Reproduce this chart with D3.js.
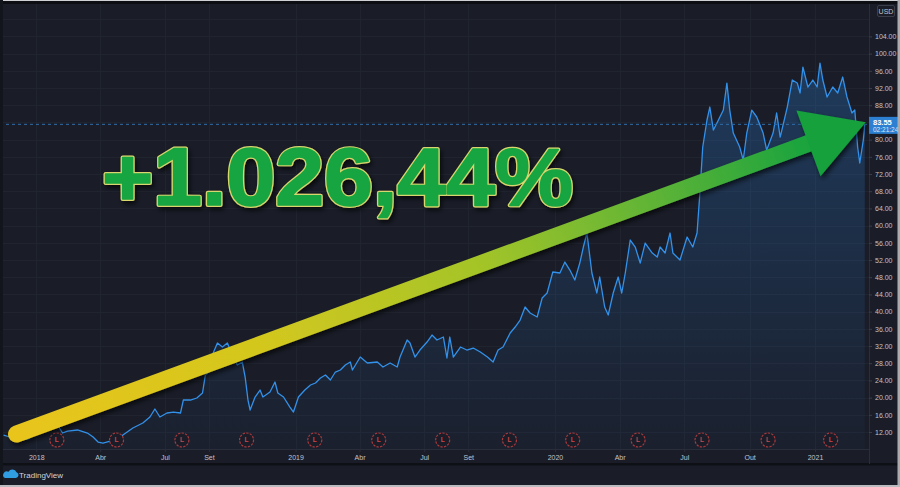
<!DOCTYPE html>
<html>
<head>
<meta charset="utf-8">
<script src="https://cdn.jsdelivr.net/npm/d3@7"></script>
<style>
  html, body { margin: 0; padding: 0; background: #1a1d28; overflow: hidden; }
  svg { display: block; font-family: "Liberation Sans", Arial, sans-serif; }
</style>
</head>
<body>
<div id="viz"></div>
<script>
// price history (daily closes, sampled)
const dates = [
  '2017-11-16','2017-11-25','2017-12-02','2017-12-09','2017-12-21','2017-12-28',
  '2018-01-11','2018-01-25','2018-02-01','2018-02-07','2018-02-14','2018-02-28',
  '2018-03-14','2018-03-22','2018-03-29','2018-04-05','2018-04-15','2018-04-25',
  '2018-05-03','2018-05-17','2018-05-31','2018-06-10','2018-06-17','2018-06-24',
  '2018-07-04','2018-07-13','2018-07-23','2018-07-27','2018-08-06','2018-08-15',
  '2018-08-23','2018-08-27','2018-09-01','2018-09-07','2018-09-13','2018-09-20',
  '2018-09-27','2018-10-01','2018-10-05','2018-10-11','2018-10-18','2018-10-22',
  '2018-10-26','2018-10-29','2018-11-05','2018-11-12','2018-11-16','2018-11-26',
  '2018-12-03','2018-12-07','2018-12-15','2018-12-24','2018-12-29','2019-01-05',
  '2019-01-14','2019-01-22','2019-01-29','2019-02-05','2019-02-12','2019-02-19',
  '2019-02-26','2019-03-05','2019-03-12','2019-03-19','2019-03-22','2019-04-02',
  '2019-04-12','2019-04-26','2019-05-04','2019-05-14','2019-05-24','2019-05-28',
  '2019-06-07','2019-06-11','2019-06-18','2019-06-25','2019-07-05','2019-07-12',
  '2019-07-19','2019-07-28','2019-08-02','2019-08-06','2019-08-11','2019-08-21',
  '2019-08-30','2019-09-08','2019-09-18','2019-09-28','2019-10-06','2019-10-13',
  '2019-10-20','2019-10-30','2019-11-06','2019-11-13','2019-11-20','2019-11-27',
  '2019-12-07','2019-12-14','2019-12-21','2019-12-29','2020-01-08','2020-01-15',
  '2020-01-22','2020-01-29','2020-02-05','2020-02-10','2020-02-15','2020-02-22',
  '2020-02-29','2020-03-04','2020-03-11','2020-03-16','2020-03-23','2020-03-30',
  '2020-04-04','2020-04-09','2020-04-16','2020-04-23','2020-04-30','2020-05-07',
  '2020-05-17','2020-05-24','2020-05-28','2020-06-04','2020-06-11','2020-06-15',
  '2020-06-25','2020-07-05','2020-07-13','2020-07-19','2020-07-23','2020-07-27',
  '2020-08-02','2020-08-06','2020-08-11','2020-08-16','2020-08-25','2020-08-30',
  '2020-09-03','2020-09-08','2020-09-17','2020-09-22','2020-09-27','2020-10-04',
  '2020-10-11','2020-10-20','2020-10-25','2020-11-03','2020-11-08','2020-11-13',
  '2020-11-23','2020-11-30','2020-12-07','2020-12-11','2020-12-15','2020-12-22',
  '2020-12-29','2021-01-04','2021-01-08','2021-01-12','2021-01-18','2021-01-26',
  '2021-02-02','2021-02-09','2021-02-15','2021-02-22','2021-02-26','2021-03-02',
  '2021-03-05','2021-03-10','2021-03-12'
];
const closes = [
  11.30, 10.84, 10.60, 10.14, 10.37, 11.30,
  12.00, 12.93, 13.40, 11.77, 12.23, 12.47,
  11.77, 10.84, 9.67, 9.44, 9.91, 10.14,
  11.30, 12.93, 14.09, 15.49, 17.35, 15.49,
  16.42, 16.65, 16.42, 19.44, 19.44, 19.91,
  21.07, 25.26, 25.95, 30.37, 32.70, 31.77,
  32.70, 31.07, 29.21, 27.58, 28.28, 24.79,
  19.44, 17.12, 20.14, 21.77, 20.14, 21.30,
  23.63, 21.07, 20.14, 17.81, 16.65, 20.14,
  21.77, 22.93, 23.40, 24.56, 25.26, 24.09,
  25.95, 26.42, 27.58, 28.28, 26.42, 29.44,
  28.05, 28.28, 27.12, 28.05, 27.12, 29.44,
  33.40, 32.70, 29.44, 31.07, 32.93, 34.56,
  33.40, 34.09, 29.21, 34.09, 29.44, 31.77,
  31.07, 31.53, 30.60, 29.44, 28.28, 31.07,
  31.77, 35.02, 36.42, 38.05, 41.07, 39.67,
  38.74, 43.16, 44.33, 49.21, 48.98, 51.53,
  49.67, 47.35, 51.30, 55.02, 58.28, 48.98,
  44.33, 48.05, 41.07, 39.21, 44.33, 48.05,
  44.33, 48.98, 56.65, 55.02, 51.30, 55.95,
  53.63, 52.70, 55.02, 53.63, 58.28, 53.63,
  52.00, 57.35, 55.02, 58.28, 67.58, 78.28,
  84.56, 87.58, 82.23, 83.86, 86.88, 93.16,
  86.88, 81.53, 78.28, 75.26, 81.53, 86.88,
  85.26, 81.53, 77.58, 81.53, 86.19, 80.60,
  87.58, 93.86, 93.16, 90.84, 96.88, 92.23,
  93.86, 92.23, 97.81, 93.86, 89.91, 92.23,
  90.84, 94.56, 89.91, 86.19, 86.88, 78.28,
  74.56, 79.91, 83.55
];
const earningsDates = [
  '2018-01-30','2018-04-24','2018-07-25','2018-10-24','2019-01-28','2019-04-28',
  '2019-07-27','2019-10-29','2020-01-26','2020-04-27','2020-07-26','2020-10-27','2021-01-23'
];
const timeTicks = [
  '2018-01-01','2018-04-01','2018-07-01','2018-09-01','2019-01-01','2019-04-01',
  '2019-07-01','2019-09-01','2020-01-01','2020-04-01','2020-07-01','2020-10-01','2021-01-01'
];
const timeLabels = ['2018','Abr','Jul','Set','2019','Abr','Jul','Set','2020','Abr','Jul','Out','2021'];
const priceTicks = [12, 16, 20, 24, 28, 32, 36, 40, 44, 48, 52, 56, 60, 64, 68, 72, 76, 80, 84, 88, 92, 96, 100, 104, 108];
const lastPrice = 83.55;
const countdown = '02:21:24';
const currency = 'USD';
const headline = '+1.026,44%';

const W = 900, H = 487;
const plotRight = 869, plotBottom = 449, axisBottom = 464;
const bg = '#1a1d28';
const parse = d3.timeParse('%Y-%m-%d');

const series = dates.map((d, i) => ({ date: parse(d), close: closes[i] }));

const x = d3.scaleTime()
  .domain([parse('2017-11-11'), parse('2021-03-18')])
  .range([0, plotRight]);
const y = d3.scaleLinear()
  .domain([8.05, 112.47])
  .range([plotBottom, 0]);

const svg = d3.select('#viz').append('svg')
  .attr('width', W).attr('height', H)
  .attr('viewBox', `0 0 ${W} ${H}`);

const defs = svg.append('defs');
const areaGrad = defs.append('linearGradient')
  .attr('id', 'areaGrad').attr('x1', 0).attr('x2', 0).attr('y1', 0).attr('y2', 1);
areaGrad.append('stop').attr('offset', '0%').attr('stop-color', '#2a7fd6').attr('stop-opacity', 0.3);
areaGrad.append('stop').attr('offset', '100%').attr('stop-color', '#2a7fd6').attr('stop-opacity', 0.03);

const shadow = defs.append('filter').attr('id', 'shadow')
  .attr('x', '-10%').attr('y', '-20%').attr('width', '130%').attr('height', '150%');
shadow.append('feDropShadow').attr('dx', 2).attr('dy', 3).attr('stdDeviation', 2.5)
  .attr('flood-color', '#000').attr('flood-opacity', 0.65);

svg.append('rect').attr('width', W).attr('height', H).attr('fill', bg);

// grid
const grid = svg.append('g').attr('stroke', '#20242f').attr('stroke-width', 1);
grid.selectAll('.hg').data(priceTicks).enter().append('line')
  .attr('x1', 0).attr('x2', plotRight)
  .attr('y1', (d) => Math.round(y(d)) + 0.5).attr('y2', (d) => Math.round(y(d)) + 0.5);
grid.selectAll('.vg').data(timeTicks).enter().append('line')
  .attr('x1', (d) => Math.round(x(parse(d))) + 0.5).attr('x2', (d) => Math.round(x(parse(d))) + 0.5)
  .attr('y1', 0).attr('y2', plotBottom);

// area + line
const area = d3.area()
  .x((d) => x(d.date))
  .y0(plotBottom)
  .y1((d) => y(d.close));
const line = d3.line()
  .x((d) => x(d.date))
  .y((d) => y(d.close));

svg.append('path').datum(series)
  .attr('d', area)
  .attr('fill', 'url(#areaGrad)');
svg.append('path').datum(series)
  .attr('d', line)
  .attr('fill', 'none')
  .attr('stroke', '#3291ea')
  .attr('stroke-width', 1.3)
  .attr('stroke-linejoin', 'round');

// last price dashed line
svg.append('line')
  .attr('x1', 0).attr('x2', plotRight)
  .attr('y1', y(lastPrice)).attr('y2', y(lastPrice))
  .attr('stroke', '#2f6ea8').attr('stroke-width', 1)
  .attr('stroke-dasharray', '3,3');

// earnings markers
const marks = svg.append('g').selectAll('g').data(earningsDates)
  .enter().append('g')
  .attr('transform', (d) => `translate(${x(parse(d))}, 440)`);
marks.append('circle')
  .attr('r', 7)
  .attr('fill', bg)
  .attr('stroke', '#a93a3e')
  .attr('stroke-width', 1.2)
  .attr('stroke-dasharray', '2.4,1.2');
marks.append('text')
  .attr('text-anchor', 'middle')
  .attr('dy', 2.4)
  .attr('font-size', 6.5)
  .attr('font-weight', 'bold')
  .attr('fill', '#c9474b')
  .text('L');

// bottom time axis
svg.append('rect').attr('x', 0).attr('y', axisBottom).attr('width', W).attr('height', H - axisBottom).attr('fill', bg);
const xAxis = svg.append('g')
  .attr('transform', `translate(0, ${plotBottom})`)
  .call(d3.axisBottom(x)
    .tickValues(timeTicks.map(parse))
    .tickFormat((d, i) => timeLabels[i])
    .tickSize(3)
    .tickPadding(3)
    .tickSizeOuter(0));
xAxis.select('.domain').attr('stroke', '#2a2e3a');
xAxis.selectAll('.tick line').attr('stroke', '#2a2e3a');
xAxis.selectAll('.tick text')
  .attr('fill', '#c0c3cb')
  .attr('font-size', 7)
  .attr('font-family', '"Liberation Sans", Arial, sans-serif');

svg.append('rect').attr('x', 0).attr('y', axisBottom - 1).attr('width', W).attr('height', 2.5).attr('fill', '#0e1016');

// right price axis; labels hidden behind the currency and last-price boxes are skipped
const py = y(lastPrice);
const visibleTicks = priceTicks.filter((d) => Math.abs(y(d) - py) > 11 && y(d) > 24);
svg.append('line')
  .attr('x1', plotRight + 0.5).attr('x2', plotRight + 0.5)
  .attr('y1', 0).attr('y2', axisBottom)
  .attr('stroke', '#2a2e3a');
const yAxis = svg.append('g')
  .attr('transform', `translate(${plotRight}, 0)`)
  .call(d3.axisRight(y)
    .tickValues(visibleTicks)
    .tickFormat(d3.format('.2f'))
    .tickSize(3)
    .tickPadding(3)
    .tickSizeOuter(0));
yAxis.select('.domain').remove();
yAxis.selectAll('.tick line').attr('stroke', '#3a3e4a');
yAxis.selectAll('.tick text')
  .attr('fill', '#c0c3cb')
  .attr('font-size', 7)
  .attr('font-family', '"Liberation Sans", Arial, sans-serif');

// currency box
svg.append('rect')
  .attr('x', 877.5).attr('y', 5.5).attr('width', 17).attr('height', 11)
  .attr('rx', 1.5)
  .attr('fill', bg).attr('stroke', '#3a3e4a');
svg.append('text')
  .attr('x', 886).attr('y', 13.5)
  .attr('text-anchor', 'middle')
  .attr('font-size', 7)
  .attr('fill', '#c0c3cb')
  .text(currency);

// last price label
svg.append('rect')
  .attr('x', plotRight).attr('y', py - 7.5).attr('width', W - plotRight).attr('height', 17)
  .attr('fill', '#2d7fd2');
svg.append('text')
  .attr('x', plotRight + 4).attr('y', py + 1)
  .attr('font-size', 7.5).attr('font-weight', 'bold')
  .attr('fill', '#ffffff')
  .text(lastPrice.toFixed(2));
svg.append('text')
  .attr('x', plotRight + 4).attr('y', py + 8)
  .attr('font-size', 6.5)
  .attr('fill', '#dbe8f7')
  .text(countdown);

// arrow from first close to last close
const first = series[0], last = series[series.length - 1];
const start = [x(first.date) + 13, y(first.close) - 1];
const tip = [x(last.date) + 1, y(last.close) - 2];
const dx = tip[0] - start[0], dy = tip[1] - start[1];
const len = Math.hypot(dx, dy);
const ux = dx / len, uy = dy / len;
const nx = -uy, ny = ux;
const headLen = 61, headHalf = 35;
const base = [tip[0] - ux * headLen, tip[1] - uy * headLen];

const arrowGrad = defs.append('linearGradient')
  .attr('id', 'arrowGrad')
  .attr('gradientUnits', 'userSpaceOnUse')
  .attr('x1', start[0]).attr('y1', start[1])
  .attr('x2', tip[0]).attr('y2', tip[1]);
[['0%', '#e9c51b'], ['30%', '#d2c71f'], ['55%', '#a3c428'], ['75%', '#5fb436'], ['92%', '#1ea43d'], ['100%', '#12a03e']]
  .forEach((s) => arrowGrad.append('stop').attr('offset', s[0]).attr('stop-color', s[1]));

const arrow = svg.append('g').attr('filter', 'url(#shadow)');
arrow.append('line')
  .attr('x1', start[0]).attr('y1', start[1])
  .attr('x2', base[0] + ux * 4).attr('y2', base[1] + uy * 4)
  .attr('stroke', 'url(#arrowGrad)')
  .attr('stroke-width', 17)
  .attr('stroke-linecap', 'round');
arrow.append('path')
  .attr('d', d3.line()([
    [base[0] + nx * headHalf, base[1] + ny * headHalf],
    tip,
    [base[0] - nx * headHalf, base[1] - ny * headHalf]
  ]) + 'Z')
  .attr('fill', '#14a13e');

// headline: yellow outline underneath, slightly thickened green glyphs on top
const title = svg.append('g').attr('filter', 'url(#shadow)');
title.append('text')
  .attr('x', 102).attr('y', 205)
  .attr('textLength', 471)
  .attr('lengthAdjust', 'spacingAndGlyphs')
  .attr('font-size', 81)
  .attr('font-weight', 'bold')
  .attr('fill', '#d8d66c')
  .attr('stroke', '#d8d66c')
  .attr('stroke-width', 4)
  .attr('stroke-linejoin', 'round')
  .text(headline);
title.append('text')
  .attr('x', 102).attr('y', 205)
  .attr('textLength', 471)
  .attr('lengthAdjust', 'spacingAndGlyphs')
  .attr('font-size', 81)
  .attr('font-weight', 'bold')
  .attr('fill', '#19a540')
  .attr('stroke', '#19a540')
  .attr('stroke-width', 1.6)
  .attr('stroke-linejoin', 'round')
  .text(headline);

// footer logo
const logo = svg.append('g').attr('transform', 'translate(4, 469)');
logo.append('path')
  .attr('d', 'M1,9 H12 A3,3 0 0 0 12.5,3.2 A4.5,4.5 0 0 0 4.5,2.8 A3.2,3.2 0 0 0 1,9 Z')
  .attr('fill', '#2f9ee3');
svg.append('text')
  .attr('x', 19).attr('y', 477.5)
  .attr('font-size', 8)
  .attr('fill', '#d1d4dc')
  .text('TradingView');

// frame
svg.append('rect').attr('x', 0).attr('y', 0).attr('width', W).attr('height', 1).attr('fill', '#cfd0d3');
svg.append('rect').attr('x', 0).attr('y', 1).attr('width', W).attr('height', 3).attr('fill', '#0c0e13');
svg.append('rect').attr('x', 0).attr('y', 0).attr('width', 3).attr('height', H).attr('fill', '#12151c');
svg.append('rect').attr('x', W - 2.5).attr('y', 0).attr('width', 2.5).attr('height', H).attr('fill', '#a9abaf');
svg.append('rect').attr('x', 0).attr('y', H - 2).attr('width', W).attr('height', 2).attr('fill', '#b9bbbe');
</script>
</body>
</html>
